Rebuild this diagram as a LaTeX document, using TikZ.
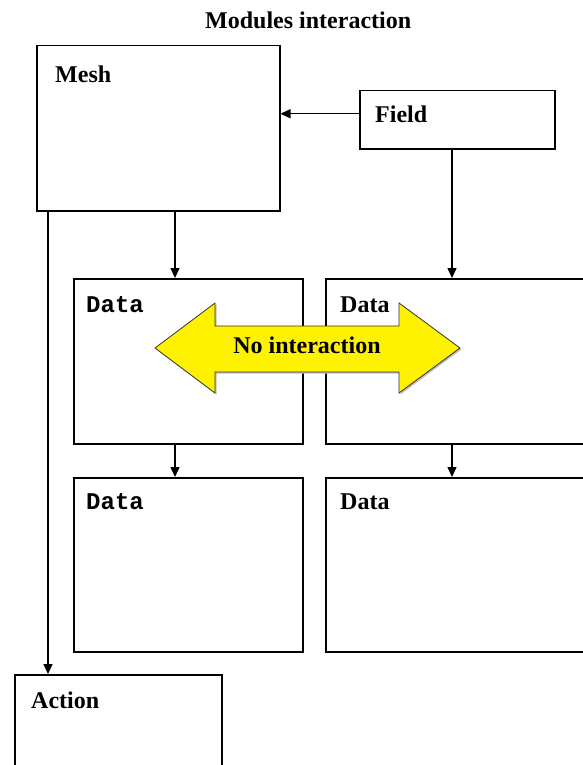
\documentclass[tikz,border=0pt]{standalone}
\usepackage{fontspec}
\setmainfont{Liberation Serif}
\setmonofont{Liberation Mono}
\usetikzlibrary{arrows.meta}
\begin{document}
\begin{tikzpicture}[x=1pt,y=-1pt,
  box/.style={draw, line width=1.5pt, rectangle, inner sep=0pt, anchor=north west},
  lbl/.style={anchor=base west, inner sep=0pt, font=\fontsize{24}{28}\selectfont\bfseries},
  mlbl/.style={anchor=base west, inner sep=0pt, font=\fontsize{24}{28}\selectfont\ttfamily\bfseries},
  arr/.style={line width=1.5pt, -{Triangle[length=10pt,width=9pt]}},
  bigarrow/.style={fill=yellow, draw=black!80, line width=0.8pt, line join=miter}]
\useasboundingbox (0,0) rectangle (583,765);
\clip (0,0) rectangle (583,765);

% title
\node[lbl] (title) at (205,29) {Modules interaction};

% boxes
\node[box, minimum width=243pt, minimum height=165pt] (mesh) at (36,45) {};
\node[box, minimum width=195pt, minimum height=58pt] (field) at (359,90) {};
\node[box, minimum width=229pt, minimum height=165pt] (dul) at (73,278) {};
\node[box, minimum width=280pt, minimum height=165pt] (dur) at (325,278) {};
\node[box, minimum width=229pt, minimum height=174pt] (dll) at (73,477) {};
\node[box, minimum width=280pt, minimum height=174pt] (dlr) at (325,477) {};
\node[box, minimum width=207pt, minimum height=120pt] (action) at (14,674) {};

% labels
\node[lbl] (meshl) at (55,83) {Mesh};
\node[lbl] (fieldl) at (375,123) {Field};
\node[mlbl] (dull) at (86,312) {Data};
\node[lbl] (durl) at (340,312) {Data};
\node[mlbl] (dlll) at (86,509) {Data};
\node[lbl] (dlrl) at (340,509) {Data};
\node[lbl] (actionl) at (31,708) {Action};

% connectors
\draw[arr] ([yshift=6pt]field.west) -- ([yshift=6pt]field.west -| mesh.east);
\draw[arr] (mesh.south -| 175,0) -- (dul.north -| 175,0);
\draw[arr] (field.south -| 452,0) -- (dur.north -| 452,0);
\draw[arr] (dul.south -| 175,0) -- (dll.north -| 175,0);
\draw[arr] (dur.south -| 452,0) -- (dlr.north -| 452,0);
\draw[arr] (mesh.south -| 48,0) -- (action.north -| 48,0);

% big double arrow
\fill[black!25, shift={(1.5,1.5)}] (155,348) -- (215,303) -- (215,326) -- (399,326) -- (399,303)
  -- (460,348) -- (399,393) -- (399,372) -- (215,372) -- (215,393) -- cycle;
\path[bigarrow] (155,348) -- (215,303) -- (215,326) -- (399,326) -- (399,303)
  -- (460,348) -- (399,393) -- (399,372) -- (215,372) -- (215,393) -- cycle;
\node[font=\fontsize{24}{28}\selectfont\bfseries, anchor=base, inner sep=0pt] (noint) at (307,353) {No interaction};
\end{tikzpicture}
\end{document}
